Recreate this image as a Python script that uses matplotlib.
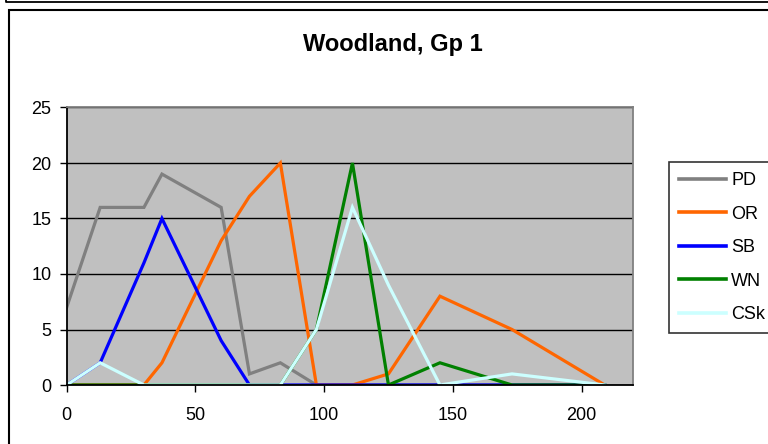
import matplotlib
matplotlib.use("Agg")
import matplotlib.pyplot as plt
from matplotlib.patches import Rectangle
from matplotlib.lines import Line2D

# data
x = [0, 13, 30, 37, 60, 71, 83, 97, 111, 125, 145, 173, 209]
pd_vals = [7, 16, 16, 19, 16, 1, 2, 0, 0, 0, 0, 0, 0]
or_vals = [0, 0, 0, 2, 13, 17, 20, 0, 0, 1, 8, 5, 0]
sb_vals = [0, 2, 11, 15, 4, 0, 0, 0, 0, 0, 0, 0, 0]
wn_vals = [0, 0, 0, 0, 0, 0, 0, 5, 20, 0, 2, 0, 0]
csk_vals = [0, 2, 0, 0, 0, 0, 0, 5, 16, 9, 0, 1, 0]

series = [
    ("PD", pd_vals, "#808080"),
    ("OR", or_vals, "#FF6600"),
    ("SB", sb_vals, "#0000FF"),
    ("WN", wn_vals, "#008000"),
    ("CSk", csk_vals, "#CCFFFF"),
]

x_ticks = [0, 50, 100, 150, 200]
y_ticks = [0, 5, 10, 15, 20, 25]
title = "Woodland, Gp 1"

plt.rcParams['font.family'] = ['Liberation Sans', 'DejaVu Sans']

W, H = 768, 444
fig = plt.figure(figsize=(W / 100, H / 100), dpi=100)


def fx(px):
    return px / W


def fy(py):
    return 1 - py / H


# frame of the chart above (cut off) and of this chart
fig.add_artist(Line2D([fx(6), fx(6), 1.0], [1.0, fy(2.5), fy(2.5)],
                      transform=fig.transFigure, color="black", lw=1.3))
fig.add_artist(Rectangle((fx(8.5), -0.1), 1.2, fy(10.5) + 0.1,
                         transform=fig.transFigure, fill=False,
                         edgecolor="black", lw=1.5))

left, right, top, bottom = 66.7, 633, 107.5, 385
ax = fig.add_axes([fx(left), fy(bottom), fx(right - left), fy(top) - fy(bottom)])
ax.set_facecolor("#C0C0C0")

for name, vals, color in series:
    ax.plot(x, vals, color=color, lw=2.3, label=name, solid_joinstyle="miter")

ax.set_xlim(0, 220)
ax.set_ylim(0, 25)
ax.set_xticks(x_ticks)
ax.set_yticks(y_ticks)
ax.yaxis.grid(True, color="black", lw=1.0)
ax.set_axisbelow(True)
ax.tick_params(axis="both", labelsize=13, direction="out", length=5, width=1,
               color="black")
ax.tick_params(axis="x", pad=11)
ax.tick_params(axis="y", pad=6)
ax.spines["left"].set_color("black")
ax.spines["bottom"].set_color("black")
ax.spines["top"].set_color("#808080")
ax.spines["right"].set_color("#808080")
for s in ax.spines.values():
    s.set_linewidth(1.3)

fig.text(fx(393), fy(45), title, ha="center", va="center",
         fontsize=17, fontweight="bold")

leg = fig.legend(loc="upper left", bbox_to_anchor=(fx(669), fy(162)),
                 fontsize=13, frameon=True, fancybox=False, shadow=False,
                 handlelength=2.6, handletextpad=0.3, labelspacing=0.92,
                 borderpad=0.55, borderaxespad=0)
leg.get_frame().set_edgecolor("black")
leg.get_frame().set_linewidth(1.2)
for line in leg.get_lines():
    line.set_linewidth(2.6)

fig.savefig("out.png", dpi=100)
